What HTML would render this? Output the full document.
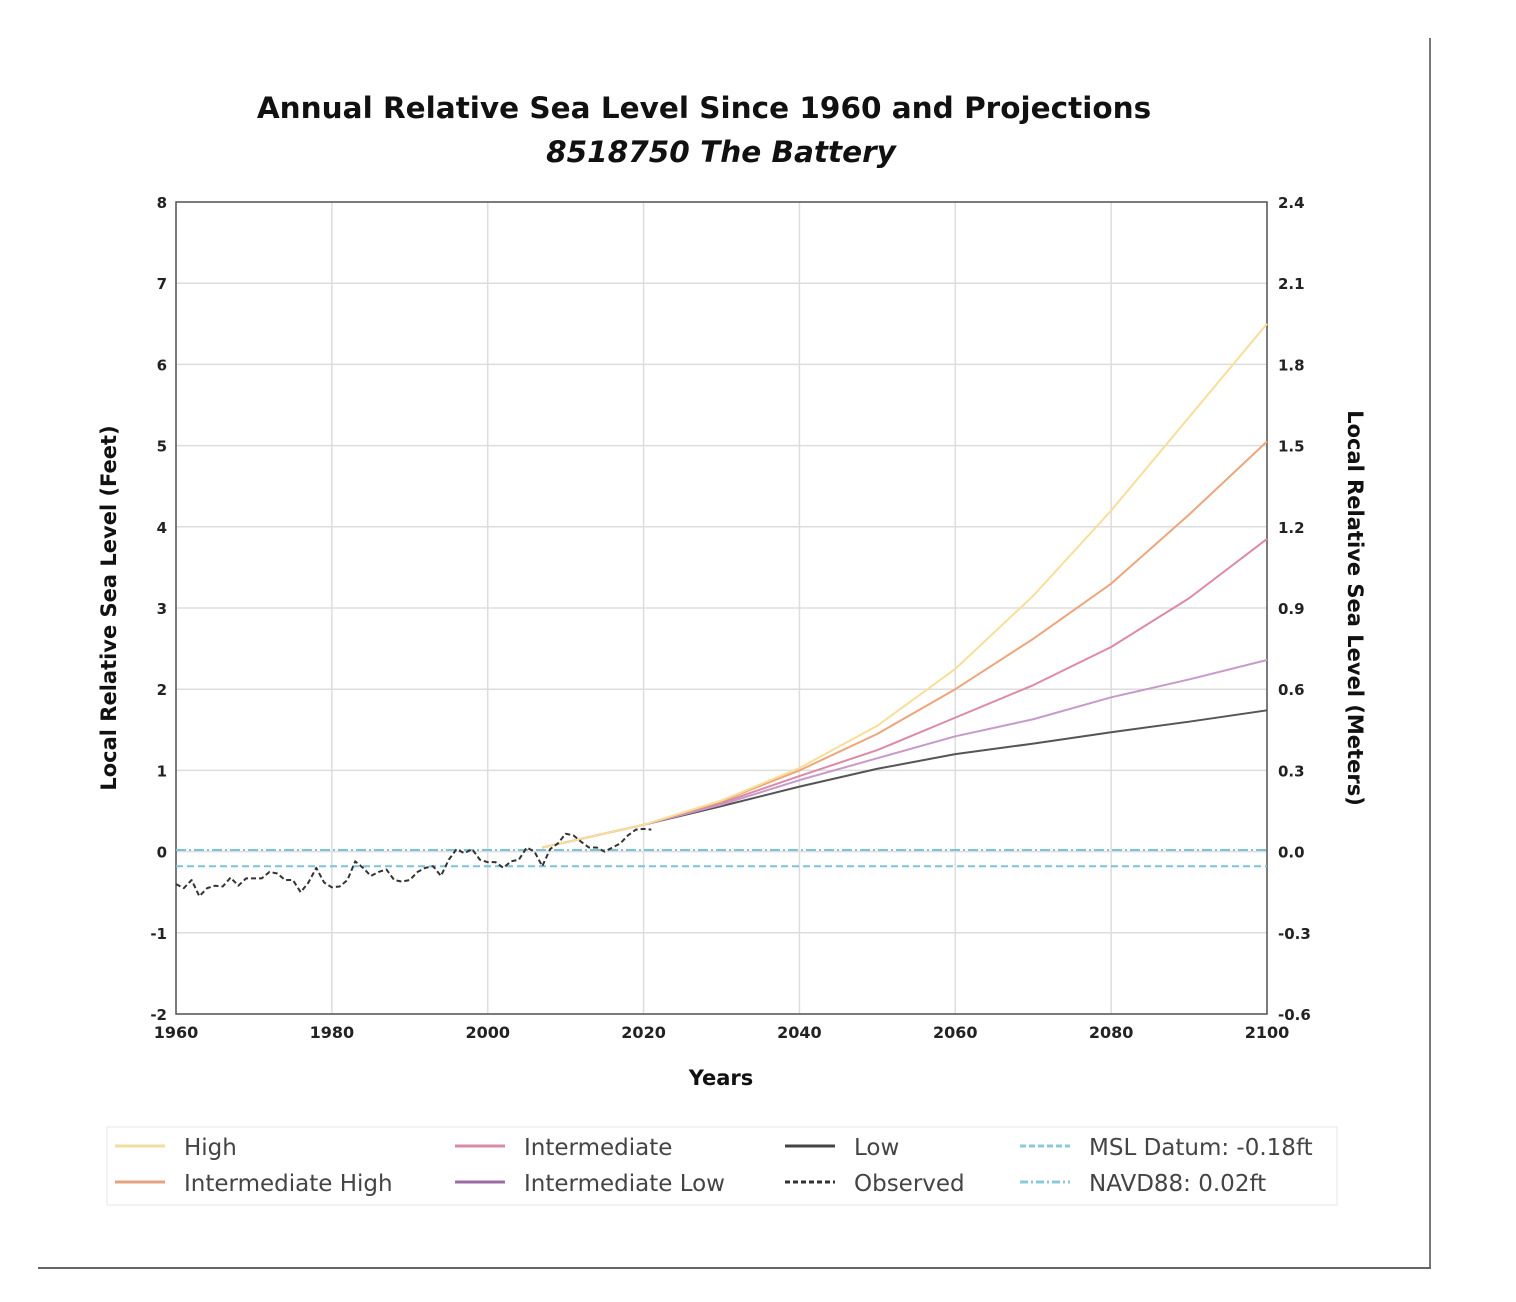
<!DOCTYPE html>
<html><head><meta charset="utf-8"><style>
body{margin:0;background:#fff;font-family:"DejaVu Sans","Liberation Sans",sans-serif;}
svg{display:block}
</style></head><body>
<svg id="chart" width="1516" height="1302" xmlns="http://www.w3.org/2000/svg">
<line x1="1430" y1="38" x2="1430" y2="1268" stroke="#777" stroke-width="2"/>
<line x1="38" y1="1268" x2="1431" y2="1268" stroke="#666" stroke-width="2"/>
<text x="704" y="118" text-anchor="middle" font-size="29.5" font-weight="bold" fill="#111">Annual Relative Sea Level Since 1960 and Projections</text>
<text x="721" y="162" text-anchor="middle" font-size="29.5" font-weight="bold" font-style="italic" fill="#111">8518750 The Battery</text>
<g id="grid"></g>
<g id="axes"></g>
<g id="series"></g>
<text x="721" y="1085" text-anchor="middle" font-size="21" font-weight="bold" fill="#111">Years</text>
<text transform="translate(116,608) rotate(-90)" text-anchor="middle" font-size="21" font-weight="bold" fill="#111">Local Relative Sea Level (Feet)</text>
<text transform="translate(1348,608) rotate(90)" text-anchor="middle" font-size="21" font-weight="bold" fill="#111">Local Relative Sea Level (Meters)</text>
<g id="legend">
<rect x="107" y="1127" width="1230" height="78" fill="#fff" stroke="#eee" stroke-width="1.5"/>
</g>
</svg>
<script>
const xTicks=[1960,1980,2000,2020,2040,2060,2080,2100];
const yTicksFt=[-2,-1,0,1,2,3,4,5,6,7,8];
const yTicksM=["-0.6","-0.3","0.0","0.3","0.6","0.9","1.2","1.5","1.8","2.1","2.4"];
const obsYears=[];for(let y=1960;y<=2021;y++)obsYears.push(y);
const obsValues=[-0.4,-0.45,-0.35,-0.55,-0.45,-0.42,-0.43,-0.32,-0.42,-0.33,-0.33,-0.33,-0.25,-0.27,-0.35,-0.35,-0.5,-0.38,-0.2,-0.38,-0.44,-0.43,-0.35,-0.12,-0.2,-0.3,-0.25,-0.22,-0.35,-0.37,-0.35,-0.25,-0.2,-0.18,-0.3,-0.1,0.03,-0.02,0.03,-0.1,-0.13,-0.13,-0.2,-0.12,-0.1,0.05,0.0,-0.18,0.03,0.1,0.22,0.2,0.12,0.05,0.05,0.0,0.05,0.1,0.2,0.27,0.28,0.27];
const projYears=[2007,2020,2030,2040,2050,2060,2070,2080,2090,2100];
const high=[0.05,0.33,0.63,1.03,1.55,2.25,3.15,4.2,5.35,6.5];
const intHigh=[0.05,0.33,0.62,1.0,1.45,2.0,2.62,3.3,4.15,5.05];
const intermediate=[0.05,0.33,0.6,0.93,1.25,1.65,2.05,2.52,3.12,3.85];
const intLow=[0.05,0.33,0.58,0.88,1.15,1.42,1.63,1.9,2.12,2.36];
const low=[0.05,0.33,0.56,0.8,1.02,1.2,1.33,1.47,1.6,1.74];
const mslDatum=-0.18, navd88=0.02;
const X0=176,X1=1267,Y0=1014,Y1=202;
const xs=v=>X0+(v-1960)/(140)*(X1-X0);
const ys=v=>Y0-(v+2)/10*(Y0-Y1);
const NS="http://www.w3.org/2000/svg";
function mk(tag,attrs,parent){const e=document.createElementNS(NS,tag);for(const k in attrs)e.setAttribute(k,attrs[k]);document.getElementById(parent).appendChild(e);return e;}
xTicks.forEach(t=>{const l=mk('line',{x1:xs(t),x2:xs(t),y1:Y1,y2:Y0,stroke:'#ddd','stroke-width':1.5},'grid');


const tx=mk('text',{x:xs(t),y:Y0+24,'text-anchor':'middle','font-size':16,'font-weight':'bold',fill:'#222'},'axes');tx.textContent=t;

});
yTicksFt.forEach((t,i)=>{const l=mk('line',{x1:X0,x2:X1,y1:ys(t),y2:ys(t),stroke:'#ddd','stroke-width':1.5},'grid');


const tx=mk('text',{x:X0-9,y:ys(t)+6,'text-anchor':'end','font-size':15,'font-weight':'bold',fill:'#222'},'axes');tx.textContent=t;


const tr=mk('text',{x:X1+11,y:ys(t)+6,'font-size':15,'font-weight':'bold',fill:'#222'},'axes');tr.textContent=yTicksM[i];

});
const fr=mk('rect',{x:X0,y:Y1,width:X1-X0,height:Y0-Y1,fill:'none',stroke:'#555','stroke-width':1.5},'axes');


function hline(v,dash,name){const l=mk('line',{x1:X0,x2:X1,y1:ys(v),y2:ys(v),stroke:'#7cc3d8','stroke-width':2,'stroke-dasharray':dash},'series');

}
hline(mslDatum,'7,4','msl-datum-line');
hline(navd88,'10,3,2,3','navd88-line');
function poly(xv,yv,color,dash,name){const p=mk('polyline',{points:xv.map((x,i)=>xs(x)+','+ys(yv[i])).join(' '),fill:'none',stroke:color,'stroke-width':2,'stroke-dasharray':dash||'none','stroke-linejoin':'round'},'series');

}
poly(projYears,low,'#555','', 'low-line');
poly(projYears,intLow,'#c79bc9','','intermediate-low-line');
poly(projYears,intermediate,'#dc8aa6','','intermediate-line');
poly(projYears,intHigh,'#eea57c','','intermediate-high-line');
poly(projYears,high,'#f7df9a','','high-line');
poly(obsYears,obsValues,'#333','5,3','observed-line');
const leg=[["High","#f2dc9e","",115,1146],["Intermediate High","#e9a27f","",115,1182],["Intermediate","#d98aa5","",455,1146],["Intermediate Low","#9e6aa5","",455,1182],["Low","#444","",785,1146],["Observed","#333","5,3",785,1182],["MSL Datum: -0.18ft","#8cc8dc","6,3",1020,1146],["NAVD88: 0.02ft","#8cc8dc","8,3,2,3",1020,1182]];
leg.forEach(e=>{const l=mk('line',{x1:e[3],x2:e[3]+50,y1:e[4],y2:e[4],stroke:e[1],'stroke-width':3,'stroke-dasharray':e[2]||'none'},'legend');


const t=mk('text',{x:e[3]+69,y:e[4]+9,'font-size':23,fill:'#444'},'legend');t.textContent=e[0];

});
</script>
</body></html>
